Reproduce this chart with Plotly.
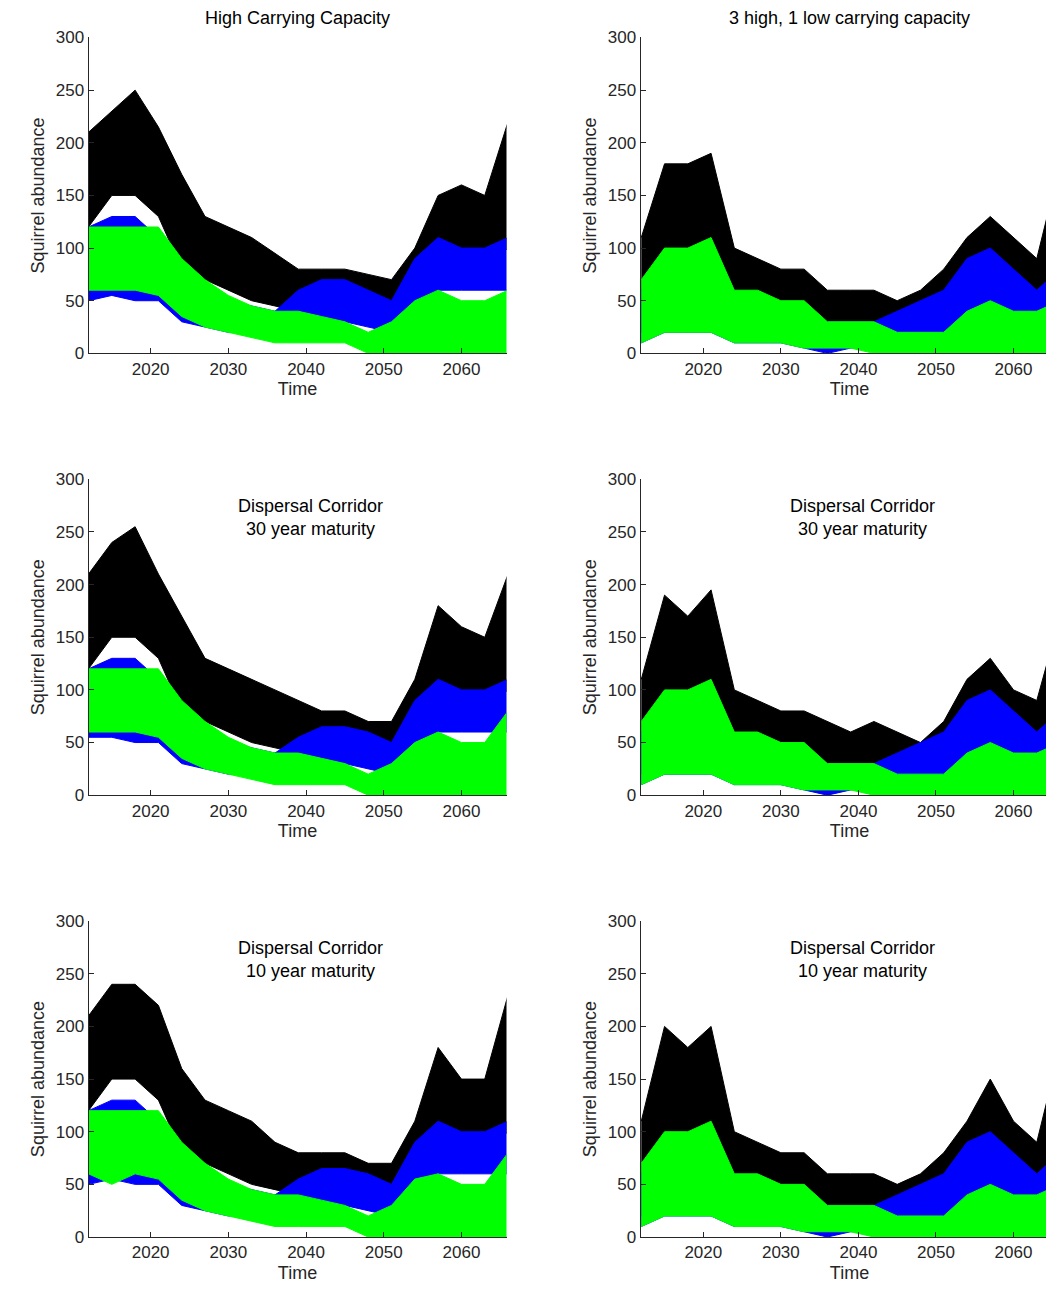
import plotly.graph_objects as go

years = [2012,2015,2018,2021,2024,2027,2030,2033,2036,2039,2042,2045,2048,2051,2054,2057,2060,2063,2066]

titles = ["High Carrying Capacity", "3 high, 1 low carrying capacity",
          "Dispersal Corridor<br>30 year maturity", "Dispersal Corridor<br>30 year maturity",
          "Dispersal Corridor<br>10 year maturity", "Dispersal Corridor<br>10 year maturity"]

# per panel: (black_hi, black_lo, blue_hi, blue_lo, green_hi, green_lo)
p1 = ([210,230,250,215,170,130,120,110,95,80,80,80,75,70,100,150,160,150,220],
      [120,150,150,130,80,70,60,50,45,40,40,45,40,35,60,80,80,80,100],
      [120,130,130,110,70,55,50,45,40,60,70,70,60,50,90,110,100,100,110],
      [50,55,50,50,30,25,20,20,20,25,25,30,25,20,40,60,60,60,60],
      [120,120,120,120,90,70,55,45,40,40,35,30,20,30,50,60,50,50,60],
      [60,60,60,55,35,25,20,15,10,10,10,10,0,0,0,0,0,0,0])
p2 = ([110,180,180,190,100,90,80,80,60,60,60,50,60,80,110,130,110,90,180],
      [20,30,40,40,20,20,20,15,10,10,10,10,10,10,20,30,30,30,40],
      [60,90,80,80,50,50,40,40,30,30,30,40,50,60,90,100,80,60,80],
      [10,20,20,20,10,10,10,5,0,5,5,5,5,5,10,20,20,20,20],
      [70,100,100,110,60,60,50,50,30,30,30,20,20,20,40,50,40,40,50],
      [10,20,20,20,10,10,10,5,5,5,0,0,0,0,0,0,0,0,0])
p3 = ([210,240,255,210,170,130,120,110,100,90,80,80,70,70,110,180,160,150,210],
      [120,150,150,130,80,70,60,50,45,40,40,45,40,35,60,80,80,80,100],
      [120,130,130,110,70,55,50,45,40,55,65,65,60,50,90,110,100,100,110],
      [55,55,50,50,30,25,20,20,20,25,25,30,25,20,40,60,60,60,60],
      [120,120,120,120,90,70,55,45,40,40,35,30,20,30,50,60,50,50,80],
      [60,60,60,55,35,25,20,15,10,10,10,10,0,0,0,0,0,0,0])
p4 = ([110,190,170,195,100,90,80,80,70,60,70,60,50,70,110,130,100,90,170],
      [20,30,40,40,20,20,20,15,10,10,10,10,10,10,20,30,30,30,40],
      [60,90,80,80,50,50,40,40,30,30,30,40,50,60,90,100,80,60,80],
      [10,20,20,20,10,10,10,5,0,5,5,5,5,5,10,20,20,20,20],
      [70,100,100,110,60,60,50,50,30,30,30,20,20,20,40,50,40,40,50],
      [10,20,20,20,10,10,10,5,5,5,0,0,0,0,0,0,0,0,0])
p5 = ([210,240,240,220,160,130,120,110,90,80,80,80,70,70,110,180,150,150,230],
      [120,150,150,130,80,70,60,50,45,40,40,45,40,35,60,80,80,80,100],
      [120,130,130,110,70,55,50,45,40,55,65,65,60,50,90,110,100,100,110],
      [50,55,50,50,30,25,20,20,20,25,25,30,25,20,40,60,60,60,60],
      [120,120,120,120,90,70,55,45,40,40,35,30,20,30,55,60,50,50,80],
      [60,50,60,55,35,25,20,15,10,10,10,10,0,0,0,0,0,0,0])
p6 = ([110,200,180,200,100,90,80,80,60,60,60,50,60,80,110,150,110,90,180],
      [20,30,40,40,20,20,20,15,10,10,10,10,10,10,20,30,30,30,40],
      [60,90,80,80,50,50,40,40,30,30,30,40,50,60,90,100,80,60,80],
      [10,20,20,20,10,10,10,5,0,5,5,5,5,5,10,20,20,20,20],
      [70,100,100,110,60,60,50,50,30,30,30,20,20,20,40,50,40,40,50],
      [10,20,20,20,10,10,10,5,5,5,0,0,0,0,0,0,0,0,0])
panels = [p1, p2, p3, p4, p5, p6]

W, H = 1054, 1302
# desired pixel positions, corrected for observed render offset/scale
A, B, XOFF = 0.9858, 17.5, 7.5
def py(p):
    return (p - B) / A
def px(p):
    return p - XOFF

cols = [(88, 506), (640, 1058)]
rows = [(38, 354), (480, 796), (922, 1238)]
xranges = [[2012, 2065.8], [2011.9, 2065.8]]
colors = ["black", "#0000ff", "#00ff00"]

fig = go.Figure()
fam = "Liberation Sans, Arial"
for i, p in enumerate(panels):
    r, c = divmod(i, 2)
    ax = "" if i == 0 else str(i + 1)
    xa, ya = "x" + ax, "y" + ax
    for k, col in enumerate(colors):
        hi, lo = p[2 * k], p[2 * k + 1]
        fig.add_trace(go.Scatter(x=years, y=lo, mode="lines", line=dict(color=col, width=1),
                                 xaxis=xa, yaxis=ya, showlegend=False, hoverinfo="skip"))
        fig.add_trace(go.Scatter(x=years, y=hi, mode="lines", line=dict(color=col, width=1),
                                 fill="tonexty", fillcolor=col, xaxis=xa, yaxis=ya,
                                 showlegend=False, hoverinfo="skip"))
    x0, x1 = cols[c]
    y0, y1 = rows[r]
    axis_common = dict(showline=True, linecolor="#262626", linewidth=1, ticks="inside",
                       ticklen=5, tickcolor="#262626", showgrid=False, zeroline=False,
                       tickfont=dict(family=fam, size=17, color="#262626"),
                       title_font=dict(family=fam, size=18, color="#262626"))
    d0 = max(0, px(x0) / W)
    d1 = min(1, px(x1) / W)
    fig.layout["xaxis" + ax] = dict(axis_common, domain=[d0, d1], range=xranges[c],
                                    tickvals=[2020, 2030, 2040, 2050, 2060], anchor=ya,
                                    title=dict(text="Time", standoff=4))
    fig.layout["yaxis" + ax] = dict(axis_common, domain=[1 - py(y1) / H, 1 - py(y0) / H], range=[0, 300],
                                    tickvals=[0, 50, 100, 150, 200, 250, 300], anchor=xa,
                                    title=dict(text="Squirrel abundance", standoff=6))
    cx = px(x0 + 209) / W
    if r == 0:
        fig.add_annotation(text=titles[i], x=cx, y=1 - py(19) / H, xref="paper", yref="paper",
                           xanchor="center", yanchor="middle", showarrow=False,
                           font=dict(family=fam, size=18, color="black"))
    else:
        fig.add_annotation(text=titles[i], x=px(x0 + 222) / W, y=1 - py(y0 + 38) / H, xref="paper", yref="paper",
                           xanchor="center", yanchor="middle", showarrow=False,
                           font=dict(family=fam, size=18, color="black"))

fig.update_layout(width=W, height=H, margin=dict(l=0, r=0, t=0, b=0),
                  plot_bgcolor="white", paper_bgcolor="white")
fig.write_html("out.html")
